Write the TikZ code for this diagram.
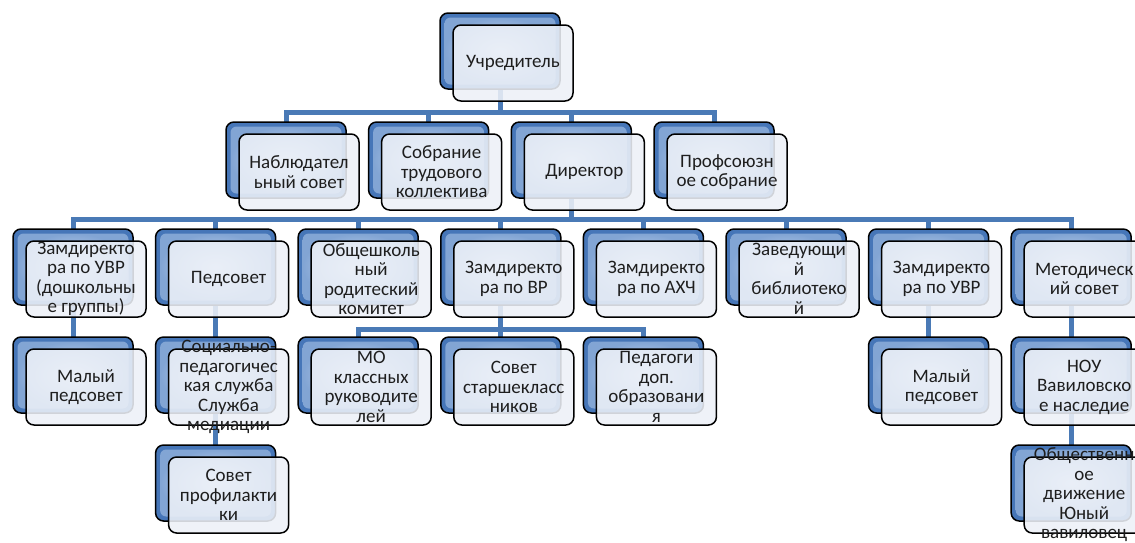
\documentclass[tikz,border=0pt]{standalone}
\usepackage{fontspec}
\setmainfont{Carlito}
\pgfdeclarelayer{bg}
\pgfsetlayers{bg,main}
\definecolor{cBlue}{HTML}{4A7AB6}
\definecolor{cBlueD}{HTML}{4676B8}
\definecolor{cBlueL}{HTML}{B3CBEB}
\definecolor{cFront}{HTML}{EDF1F8}
\definecolor{cText}{HTML}{1E1E1E}
\tikzset{
  conn/.style={draw=cBlue, line width=5pt},
  backbox/.style={draw=black, line width=1.5pt, rounded corners=8pt, fill=cBlueD,
    minimum width=120pt, minimum height=76pt, anchor=north west, inner sep=0pt, outer sep=0pt},
  shine/.style={rounded corners=6pt, inner color=cBlueL!60!white, outer color=cBlueL!55!cBlueD},
  frontbox/.style={draw=black, line width=1.5pt, rounded corners=8pt, fill=cFront, fill opacity=0.88,
    minimum width=120pt, minimum height=76pt, anchor=north west, inner sep=0pt, outer sep=0pt},
  lbl/.style={align=center, font=\fontsize{19}{19.5}\selectfont, text=cText, inner sep=0pt}
}
\newcommand{\obox}[4]{%
  \node[backbox] (b#1) at (#2,#3) {};
  \shade[shine] ([shift={(4.5,4.5)}]b#1.north west) rectangle ([shift={(-4.5,-4.5)}]b#1.south east);
  \node[frontbox] (f#1) at ([shift={(13,12)}]b#1.north west) {};
  \node[lbl] (t#1) at (f#1.center) {#4};
}
\begin{document}
\begin{tikzpicture}[x=1pt,y=-1pt]
\useasboundingbox (0,0) rectangle (1135,542);
\clip (0,0) rectangle (1135,542);
% top
\obox{top}{440}{13}{Учредитель}
% row 2
\obox{nab}{226}{122}{Наблюдател\\ьный совет}
\obox{sob}{368.6}{122}{Собрание\\трудового\\коллектива}
\obox{dir}{511.3}{122}{Директор}
\obox{prof}{654}{122}{Профсоюзн\\ое собрание}
% row 3
\obox{zuvrd}{13}{229}{Замдиректо\\ра по УВР\\(дошкольны\\е группы)}
\obox{ped}{155.6}{229}{Педсовет}
\obox{rod}{298.2}{229}{Общешколь\\ный\\родитеский\\комитет}
\obox{zvr}{440.8}{229}{Замдиректо\\ра по ВР}
\obox{zahch}{583.4}{229}{Замдиректо\\ра по АХЧ}
\obox{bib}{726}{229}{Заведующи\\й\\библиотеко\\й}
\obox{zuvr}{868.6}{229}{Замдиректо\\ра по УВР}
\obox{met}{1011.2}{229}{Методическ\\ий совет}
% row 4
\obox{mp1}{13}{337}{Малый\\педсовет}
\obox{soc}{155.6}{337}{Социально-\\педагогичес\\кая служба\\Служба\\медиации}
\obox{mo}{298.2}{337}{МО\\классных\\руководите\\лей}
\obox{sst}{440.8}{337}{Совет\\старшекласс\\ников}
\obox{pdo}{583.4}{337}{Педагоги\\доп.\\образовани\\я}
\obox{mp2}{868.6}{337}{Малый\\педсовет}
\obox{nou}{1011.2}{337}{НОУ\\Вавиловско\\е наследие}
% row 5
\obox{prf}{155.6}{445}{Совет\\профилакти\\ки}
\obox{obd}{1011.2}{445}{Общественн\\ое\\движение\\Юный\\вавиловец}
% buses
\coordinate (bus1) at (0,112);
\coordinate (bus2) at (0,219);
\coordinate (bus3) at (0,329);
\begin{pgfonlayer}{bg}
\fill[white] (0,0) rectangle (1135,542);
\foreach \c in {nab,sob,dir,prof}
  \draw[conn] (btop.south) -- (btop.south |- bus1) -| (b\c.north);
\foreach \c in {zuvrd,ped,rod,zvr,zahch,bib,zuvr,met}
  \draw[conn] (bdir.south) -- (bdir.south |- bus2) -| (b\c.north);
\foreach \c in {mo,sst,pdo}
  \draw[conn] (bzvr.south) -- (bzvr.south |- bus3) -| (b\c.north);
\draw[conn] (bzuvrd.south) -- (bmp1.north);
\draw[conn] (bped.south) -- (bsoc.north);
\draw[conn] (bsoc.south) -- (bprf.north);
\draw[conn] (bzuvr.south) -- (bmp2.north);
\draw[conn] (bmet.south) -- (bnou.north);
\draw[conn] (bnou.south) -- (bobd.north);
\end{pgfonlayer}
\end{tikzpicture}
\end{document}
